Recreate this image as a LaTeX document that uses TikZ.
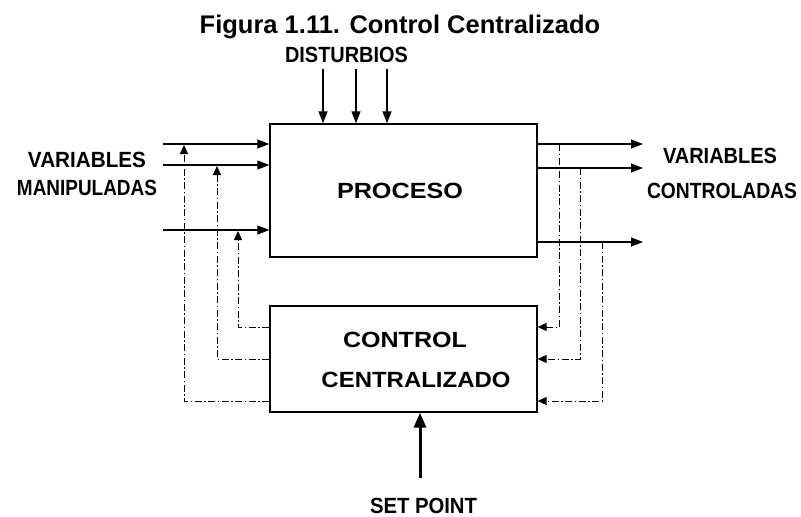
\documentclass[tikz,border=0pt]{standalone}
\usepackage{fontspec}
\setmainfont{Liberation Sans}
\usetikzlibrary{arrows.meta}
\newcommand\fitw[2]{\resizebox{#1}{\height}{#2}}
\begin{document}
\begin{tikzpicture}[x=1pt,y=-1pt,
  lbl/.style={font=\fontsize{22}{24}\selectfont\bfseries, inner sep=0pt, anchor=base},
  box/.style={draw, line width=1.3pt, inner sep=0pt, minimum width=267pt},
  sig/.style={line width=1.2pt, -{Triangle[length=12pt,width=9pt]}},
  fb/.style={line width=1pt, dash pattern=on 7pt off 2.5pt on 1.5pt off 2.5pt},
  fba/.style={fb, -{Triangle[length=9pt,width=8pt]}},
  spa/.style={line width=3pt, -{Triangle[length=15pt,width=12pt]}}
]
\useasboundingbox (0,0) rectangle (801,517);
% boxes
\node[box, minimum height=133pt] (proc) at (403.5,190.5) {};
\node[box, minimum height=106pt] (ctrl) at (403.5,359) {};
% texts
\node[lbl] (title) at (400,33) {\fontsize{25.5}{28}\selectfont Figura 1.11. Control Centralizado};
\node[lbl] (dist) at (346.5,62) {\fitw{123pt}{DISTURBIOS}};
\node[lbl] (vm1) at (87,167) {\fitw{118pt}{VARIABLES}};
\node[lbl] (vm2) at (87,195) {\fitw{140pt}{MANIPULADAS}};
\node[lbl] (vc1) at (720,163) {\fitw{114pt}{VARIABLES}};
\node[lbl] (vc2) at (722,198) {\fitw{150pt}{CONTROLADAS}};
\node[lbl] (ptxt) at (400,198) {\fitw{126pt}{PROCESO}};
\node[lbl] (ct1) at (405,347) {\fitw{124pt}{CONTROL}};
\node[lbl] (ct2) at (416,387) {\fitw{189pt}{CENTRALIZADO}};
\node[lbl] (spt) at (423.5,513) {\fitw{107pt}{SET POINT}};
% coordinates
\coordinate (i1) at (163,144);
\coordinate (i2) at (163,165);
\coordinate (i3) at (163,230);
\coordinate (u1) at (184,145);
\coordinate (u2) at (217,166);
\coordinate (u3) at (238,231);
\coordinate (c1) at (0,327);
\coordinate (c2) at (0,359);
\coordinate (c3) at (0,401);
\coordinate (o1) at (643,144);
\coordinate (o2) at (643,168);
\coordinate (o3) at (643,242);
\coordinate (t1) at (559,144);
\coordinate (t2) at (580,168);
\coordinate (t3) at (602,242);
\coordinate (d1) at (323,69);
\coordinate (d2) at (356,69);
\coordinate (d3) at (387,69);
\coordinate (sp) at (420,478);
% disturbances
\foreach \d in {d1,d2,d3} \draw[sig] (\d) -- (\d |- proc.north);
% inputs
\foreach \i in {i1,i2,i3} \draw[sig] (\i) -- (\i -| proc.west);
% outputs
\foreach \o in {o1,o2,o3} \draw[sig] (proc.east |- \o) -- (\o);
% feedback from controller to manipulated variables
\draw[fba] (ctrl.west |- c1) -| (u3);
\draw[fba] (ctrl.west |- c2) -| (u2);
\draw[fba] (ctrl.west |- c3) -| (u1);
% measurements into controller
\draw[fba] (t1) |- (ctrl.east |- c1);
\draw[fba] (t2) |- (ctrl.east |- c2);
\draw[fba] (t3) |- (ctrl.east |- c3);
% set point
\draw[spa] (sp) -- (sp |- ctrl.south);
\end{tikzpicture}
\end{document}
